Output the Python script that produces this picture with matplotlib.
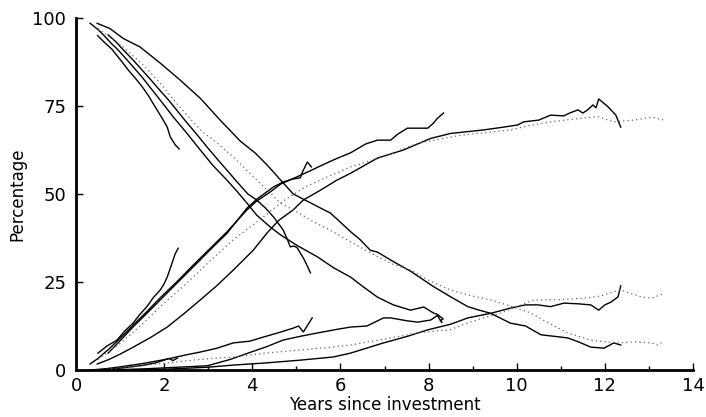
import matplotlib
matplotlib.use("Agg")
import matplotlib.pyplot as plt
from matplotlib.ticker import MultipleLocator

# ---------------- data (years since investment, percentage) ----------------
# Cohort A (observed to ~2.3 years)
a_dec_x = [0.49, 0.65, 0.81, 1.04, 1.2, 1.34, 1.5, 1.64, 1.76, 1.98, 2.07, 2.14, 2.25, 2.34]
a_dec_y = [95.0, 93.0, 91.2, 87.6, 85.0, 83.0, 80.5, 78.0, 75.5, 71.0, 69.0, 66.2, 64.0, 62.8]
a_inc_x = [0.5, 0.7, 0.93, 1.1, 1.3, 1.45, 1.61, 1.75, 1.91, 2.0, 2.07, 2.18, 2.25, 2.32]
a_inc_y = [4.8, 6.8, 8.5, 11.0, 13.4, 15.8, 18.0, 20.5, 22.7, 24.5, 26.4, 30.4, 33.0, 34.6]
a_low_x = [0.5, 1.0, 1.5, 1.8, 2.0, 2.1, 2.2, 2.3]
a_low_y = [0.0, 0.5, 1.3, 2.0, 2.8, 3.3, 2.7, 3.4]

# Cohort B (observed to ~5.3 years)
b_dec_x = [0.73, 0.9, 1.1, 1.3, 1.5, 1.7, 1.9, 2.1, 2.3, 2.5, 2.75, 2.97, 3.2, 3.45, 3.65,
           3.9, 4.1, 4.3, 4.48, 4.6, 4.7, 4.8, 4.86, 4.95, 5.02, 5.1, 5.16, 5.25, 5.32]
b_dec_y = [95.2, 93.3, 90.6, 88.0, 85.2, 82.4, 79.5, 76.7, 73.6, 70.5, 66.8, 63.4, 60.0, 56.4, 53.5,
           50.0, 48.3, 46.0, 43.5, 41.5, 39.8, 37.0, 35.0, 35.2, 34.7, 33.0, 31.8, 29.5, 27.6]
b_inc_x = [0.73, 1.0, 1.3, 1.6, 1.91, 2.3, 2.66, 3.0, 3.43, 3.88, 4.1, 4.48, 4.7, 4.9, 5.09,
           5.14, 5.25, 5.34]
b_inc_y = [4.8, 8.3, 12.3, 16.0, 19.9, 24.8, 29.3, 33.6, 38.9, 46.0, 48.5, 52.0, 53.4, 54.2, 54.6,
           56.3, 59.1, 57.7]
b_low_x = [0.33, 0.7, 1.0, 1.5, 2.07, 2.5, 2.82, 3.2, 3.57, 3.95, 4.18, 4.57, 4.93, 5.05, 5.16, 5.36]
b_low_y = [0.0, 0.4, 0.9, 1.8, 3.1, 4.3, 5.1, 6.2, 7.7, 8.2, 9.1, 10.5, 11.9, 12.5, 10.8, 14.8]

# Cohort C (observed to ~8.3 years)
c_dec_x = [0.32, 0.51, 0.66, 0.8, 0.95, 1.2, 1.5, 1.7, 1.91, 2.2, 2.5, 2.82, 3.1, 3.42, 3.65,
           3.88, 4.1, 4.41, 4.64, 5.0, 5.47, 5.85, 6.23, 6.5, 6.84, 7.2, 7.59, 7.89, 8.11, 8.2,
           8.33, 8.27]
c_dec_y = [98.5, 96.6, 94.7, 92.8, 91.0, 87.5, 83.2, 80.0, 76.7, 72.0, 67.5, 62.5, 58.2, 54.0, 50.8,
           47.4, 44.0, 40.6, 38.4, 35.5, 32.2, 29.0, 26.4, 23.8, 20.7, 18.5, 17.0, 17.9, 16.2, 15.8,
           14.5, 14.0]
c_inc_x = [0.32, 0.5, 0.75, 1.0, 1.3, 1.6, 1.91, 2.3, 2.66, 3.0, 3.43, 3.88, 4.1, 4.4, 4.64,
           5.0, 5.3, 5.55, 5.9, 6.23, 6.57, 6.84, 7.14, 7.3, 7.52, 7.98, 8.1, 8.2, 8.34]
c_inc_y = [1.7, 3.3, 6.0, 9.0, 12.8, 16.5, 20.5, 25.2, 29.8, 34.0, 39.3, 45.5, 48.0, 50.5, 52.8,
           54.8, 56.5, 58.0, 60.0, 61.7, 64.2, 65.3, 65.3, 67.0, 68.7, 68.7, 70.0, 71.5, 73.0]
c_low_x = [0.73, 1.5, 2.0, 2.98, 3.5, 3.95, 4.3, 4.7, 5.1, 5.47, 5.9, 6.23, 6.6, 6.98, 7.14,
           7.5, 7.75, 8.05, 8.2, 8.3]
c_low_y = [0.0, 0.3, 0.6, 1.2, 3.0, 5.0, 6.5, 8.5, 9.6, 10.5, 11.5, 12.2, 12.5, 14.8, 14.8,
           14.0, 13.6, 14.2, 15.5, 13.5]

# Cohort D (observed to ~12.3 years)
d_dec_x = [0.48, 0.77, 1.07, 1.45, 1.91, 2.36, 2.82, 3.27, 3.73, 4.07, 4.34, 4.64, 4.93, 5.24,
           5.55, 5.77, 6.0, 6.23, 6.45, 6.68, 6.84, 7.2, 7.6, 8.11, 8.5, 8.89, 9.15, 9.41, 9.86,
           10.2, 10.55, 10.9, 11.16, 11.4, 11.68, 11.98, 12.1, 12.2, 12.36]
d_dec_y = [98.5, 97.0, 94.2, 91.8, 87.2, 82.4, 77.2, 71.0, 65.0, 61.6, 58.2, 54.0, 50.0, 48.0,
           46.0, 44.6, 42.0, 39.3, 37.0, 34.0, 33.5, 30.8, 28.0, 23.7, 20.8, 18.0, 17.0, 16.1, 13.3,
           12.5, 10.0, 9.5, 9.1, 8.0, 6.5, 6.2, 7.0, 7.7, 7.1]
d_inc_x = [0.48, 0.75, 1.0, 1.3, 1.7, 2.07, 2.45, 2.82, 3.2, 3.57, 4.02, 4.34, 4.6, 4.93, 5.16,
           5.55, 5.9, 6.23, 6.84, 7.43, 8.05, 8.5, 9.25, 9.7, 10.02, 10.16, 10.5, 10.77, 11.07,
           11.2, 11.39, 11.5, 11.61, 11.73, 11.8, 11.86, 12.07, 12.25, 12.36]
d_inc_y = [1.7, 3.0, 4.5, 6.5, 9.3, 12.2, 16.0, 19.9, 24.0, 28.4, 34.0, 39.0, 42.5, 45.5, 48.3,
           51.1, 53.8, 55.9, 60.2, 62.5, 65.8, 67.2, 68.2, 69.0, 69.6, 70.5, 71.0, 72.4, 72.2,
           73.0, 73.9, 73.0, 73.9, 75.3, 74.5, 77.0, 74.8, 72.4, 69.0]
d_low_x = [0.48, 2.0, 3.0, 3.57, 4.3, 5.09, 5.84, 6.23, 6.98, 7.5, 7.98, 8.5, 8.89, 9.41, 9.86,
           10.2, 10.48, 10.77, 11.07, 11.4, 11.68, 11.86, 12.0, 12.14, 12.3, 12.36]
d_low_y = [0.0, 0.2, 0.8, 1.4, 2.0, 2.8, 3.7, 4.8, 7.7, 9.5, 11.4, 13.0, 14.8, 16.1, 17.6,
           18.5, 18.5, 18.0, 19.0, 18.8, 18.5, 17.0, 18.5, 19.3, 20.8, 23.9]

# Dotted series (observed to ~13.3 years)
e_dec_x = [0.5, 1.0, 1.5, 1.91, 2.3, 2.82, 3.2, 3.57, 4.1, 4.64, 5.0, 5.32, 5.8, 6.23, 6.8, 7.2,
           7.59, 8.0, 8.5, 9.0, 9.41, 9.9, 10.32, 10.7, 11.16, 11.68, 12.0, 12.3, 12.66, 13.05,
           13.2, 13.34]
e_dec_y = [97.0, 92.5, 87.0, 81.5, 75.5, 68.2, 64.5, 60.5, 54.0, 47.4, 45.0, 42.6, 39.5, 36.4,
           32.5, 30.0, 28.4, 25.5, 22.7, 21.0, 19.9, 18.0, 16.2, 13.5, 10.5, 8.5, 8.0, 7.7, 8.0,
           7.7, 7.1, 8.2]
e_inc_x = [0.5, 1.0, 1.5, 1.91, 2.5, 3.0, 3.57, 4.2, 4.7, 5.2, 5.55, 6.23, 6.98, 7.75, 8.73,
           9.86, 10.3, 10.77, 11.3, 11.84, 12.2, 12.66, 13.05, 13.34]
e_inc_y = [3.0, 7.5, 13.0, 18.0, 24.5, 30.5, 37.0, 43.0, 48.0, 52.0, 54.0, 57.7, 60.6, 64.4, 66.7,
           68.2, 69.5, 70.5, 71.3, 72.0, 70.5, 71.0, 71.8, 71.0]
e_low_x = [0.5, 1.2, 2.07, 2.8, 3.57, 4.3, 5.09, 5.8, 6.23, 7.0, 7.75, 8.5, 8.89, 9.3, 9.64,
           10.0, 10.39, 11.0, 11.52, 11.9, 12.2, 12.36, 12.82, 13.05, 13.32]
e_low_y = [0.0, 0.8, 2.0, 3.0, 3.7, 4.8, 5.7, 6.5, 7.1, 8.8, 10.5, 11.5, 13.4, 15.0, 16.2,
           18.0, 19.9, 20.0, 20.4, 21.0, 22.2, 22.7, 20.8, 20.4, 21.6]

x_ticks = [0, 2, 4, 6, 8, 10, 12, 14]
y_ticks = [0, 25, 50, 75, 100]
x_label = "Years since investment"
y_label = "Percentage"

# ---------------- figure ----------------
plt.rcParams['font.family'] = ['DejaVu Sans']
fig = plt.figure(figsize=(7.06, 4.17), dpi=100)
ax = fig.add_axes([76 / 706, 47 / 417, 617 / 706, 352 / 417])

solid = [(a_dec_x, a_dec_y), (a_inc_x, a_inc_y), (a_low_x, a_low_y),
         (b_dec_x, b_dec_y), (b_inc_x, b_inc_y), (b_low_x, b_low_y),
         (c_dec_x, c_dec_y), (c_inc_x, c_inc_y), (c_low_x, c_low_y),
         (d_dec_x, d_dec_y), (d_inc_x, d_inc_y), (d_low_x, d_low_y)]
for xs, ys in solid:
    ax.plot(xs, ys, color='black', lw=1.0, solid_joinstyle='round', clip_on=False)

for xs, ys in [(e_dec_x, e_dec_y), (e_inc_x, e_inc_y), (e_low_x, e_low_y)]:
    ax.plot(xs, ys, color='0.4', lw=0.9, linestyle=(0, (1, 2.5)), clip_on=False)

ax.set_xlim(0, 14)
ax.set_ylim(0, 100)
for s in ['top', 'right']:
    ax.spines[s].set_visible(False)
for s in ['left', 'bottom']:
    ax.spines[s].set_linewidth(2.0)

ax.set_xticks(x_ticks)
ax.set_yticks(y_ticks)
ax.xaxis.set_minor_locator(MultipleLocator(1))
ax.tick_params(which='major', direction='in', length=5, width=1.0, labelsize=13, pad=5)
ax.tick_params(which='minor', direction='in', length=3, width=1.0)
ax.tick_params(axis='y', which='major', pad=7)

ax.set_xlabel(x_label, fontsize=12, labelpad=1)
ax.set_ylabel(y_label, fontsize=12, labelpad=4)

fig.savefig("out.png", dpi=100)
